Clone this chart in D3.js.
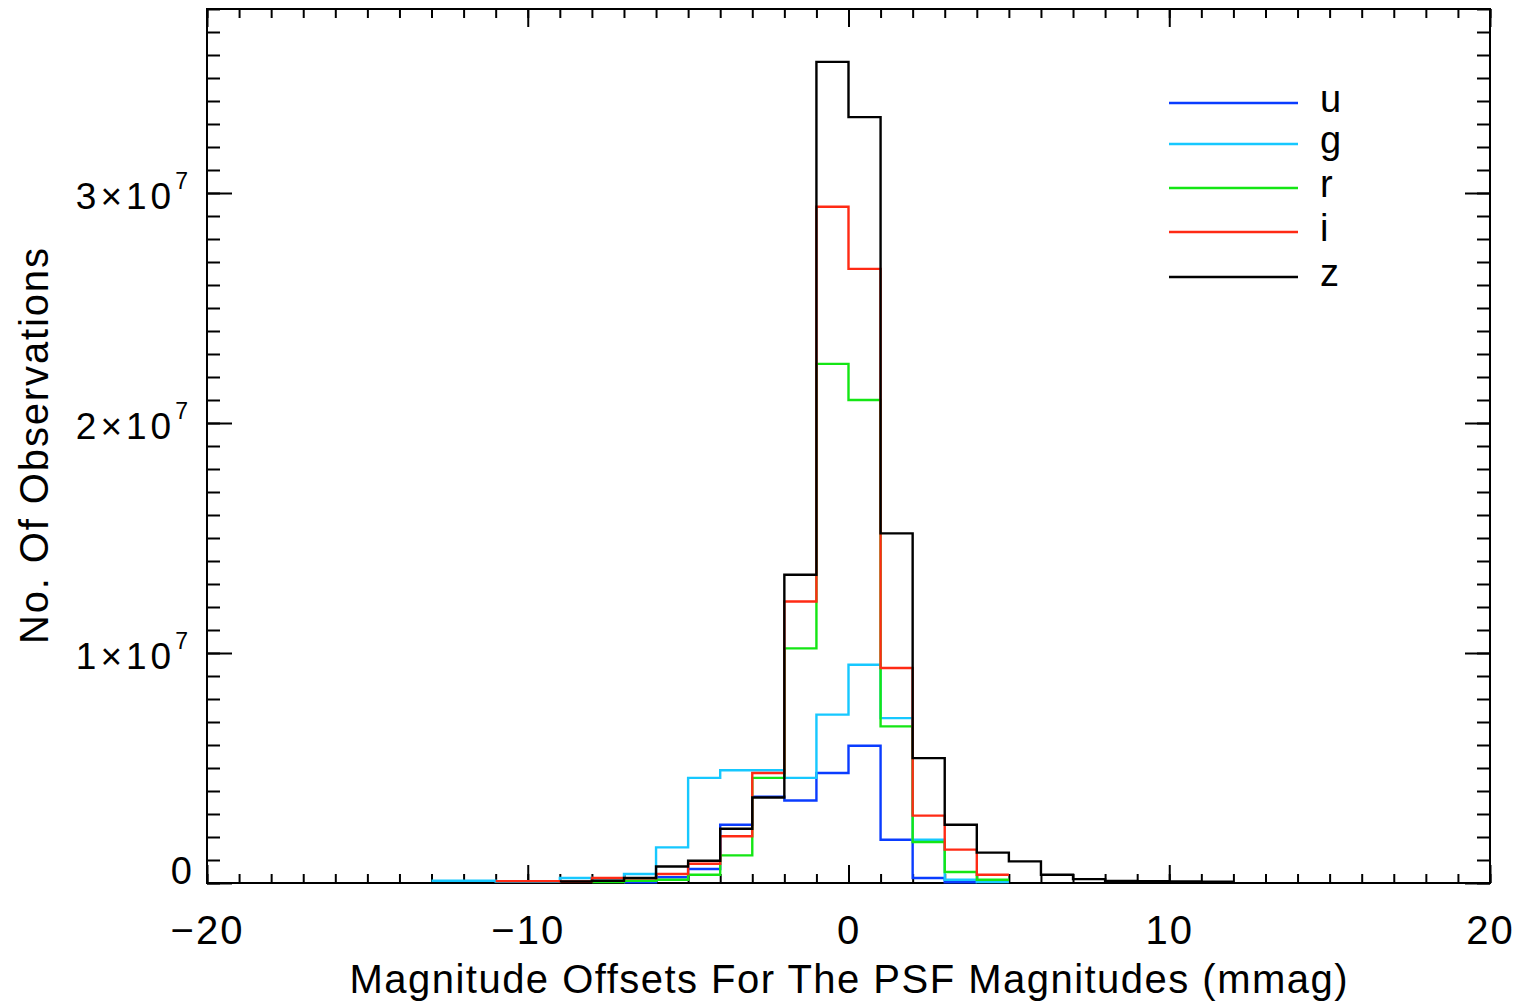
<!DOCTYPE html>
<html>
<head>
<meta charset="utf-8">
<script src="https://cdn.jsdelivr.net/npm/d3@7"></script>
<style>
  body { margin: 0; background: #fff; }
  svg { display: block; }
  text { font-family: "Liberation Sans", Arial, sans-serif; fill: #000; }
</style>
</head>
<body>
<svg id="chart" width="1519" height="1003"></svg>
<script>
// bin left edges (mmag), each bin is 1 mmag wide
var binLeft = [-13, -12, -11, -10, -9, -8, -7, -6, -5, -4, -3, -2, -1, 0, 1, 2, 3, 4, 5, 6, 7, 8, 9, 10, 11];

// counts per band, null where the band has no bin
var uCounts = [null, null, null, null, null, null, 3e4, 2.5e5, 6.1e5, 2.53e6, 3.75e6, 3.59e6, 4.78e6, 5.97e6, 1.88e6, 2.2e5, 3e4, null, null, null, null, null, null, null, null];
var gCounts = [1e5, 1e5, 6e4, 6e4, 2.2e5, 2e5, 3.9e5, 1.55e6, 4.57e6, 4.9e6, 4.9e6, 4.57e6, 7.32e6, 9.49e6, 7.17e6, 1.88e6, 1.4e5, 4e4, null, null, null, null, null, null, null];
var rCounts = [null, null, null, null, null, 4e4, 1e5, 1.4e5, 3.6e5, 1.2e6, 4.57e6, 1.02e7, 2.257e7, 2.1e7, 6.81e6, 1.78e6, 4.8e5, 1.4e5, null, null, null, null, null, null, null];
var iCounts = [null, null, 8e4, 8e4, 7e4, 2.2e5, 2e5, 3.9e5, 8.4e5, 2.03e6, 4.78e6, 1.224e7, 2.94e7, 2.67e7, 9.35e6, 2.93e6, 1.45e6, 3.6e5, null, null, null, null, null, null, null];
var zCounts = [null, null, null, null, 7e4, 1e5, 2.2e5, 7.2e5, 9.7e5, 2.36e6, 3.72e6, 1.34e7, 3.57e7, 3.33e7, 1.52e7, 5.43e6, 2.53e6, 1.32e6, 9.4e5, 3.6e5, 1.7e5, 9e4, 8e4, 7e4, 6e4];

var bandNames = ['u', 'g', 'r', 'i', 'z'];
var bandColors = ['#0a3cff', '#16c8ff', '#14e614', '#ff2a14', '#000000'];

var xMajor = [-20, -10, 0, 10, 20];
var yMajor = [0, 1e7, 2e7, 3e7];

var svg = d3.select('#chart');
var pLeft = 207, pRight = 1490, pTop = 9, pBottom = 883;

var x = d3.scaleLinear().domain([-20, 20]).range([pLeft, pRight]);
var y = d3.scaleLinear().domain([0, 3.8e7]).range([pBottom, pTop]);

var minorX = d3.range(-20, 21, 1);
var minorY = d3.range(0, 3.8e7 + 1, 1e6);

function styleAxis(g) {
  g.select('.domain').remove();
  g.selectAll('line').attr('stroke', '#000').attr('stroke-width', 2);
}

// ticks pointing inward on all four sides
svg.append('g').attr('transform', 'translate(0,' + pBottom + ')')
  .call(d3.axisBottom(x).tickValues(minorX).tickSize(-9).tickFormat('')).call(styleAxis);
svg.append('g').attr('transform', 'translate(0,' + pTop + ')')
  .call(d3.axisTop(x).tickValues(minorX).tickSize(-9).tickFormat('')).call(styleAxis);
svg.append('g').attr('transform', 'translate(0,' + pTop + ')')
  .call(d3.axisTop(x).tickValues(xMajor).tickSize(-18).tickFormat('')).call(styleAxis);
svg.append('g').attr('transform', 'translate(' + pLeft + ',0)')
  .call(d3.axisLeft(y).tickValues(minorY).tickSize(-13).tickFormat('')).call(styleAxis);
svg.append('g').attr('transform', 'translate(' + pRight + ',0)')
  .call(d3.axisRight(y).tickValues(minorY).tickSize(-13).tickFormat('')).call(styleAxis);
svg.append('g').attr('transform', 'translate(' + pRight + ',0)')
  .call(d3.axisRight(y).tickValues(yMajor).tickSize(-25).tickFormat('')).call(styleAxis);

// bottom major ticks with labels
var xAx = svg.append('g').attr('transform', 'translate(0,' + pBottom + ')')
  .call(d3.axisBottom(x).tickValues(xMajor).tickSize(-18)
    .tickFormat(function(d) { return d < 0 ? '\u2212' + Math.abs(d) : String(d); }))
  .call(styleAxis);
xAx.selectAll('text').attr('y', 61).attr('dy', null).attr('fill', '#000')
  .style('font-size', '40px').style('font-family', '"Liberation Sans", Arial, sans-serif')
  .attr('letter-spacing', 2);

// left major ticks, labels written as a x 10^b
var yAx = svg.append('g').attr('transform', 'translate(' + pLeft + ',0)')
  .call(d3.axisLeft(y).tickValues(yMajor).tickSize(-25).tickFormat(''))
  .call(styleAxis);
yAx.selectAll('.tick').each(function(d) {
  var t = d3.select(this).append('text').attr('text-anchor', 'end').attr('x', -15)
    .attr('fill', '#000').style('font-family', '"Liberation Sans", Arial, sans-serif');
  if (d === 0) {
    t.attr('y', 0).style('font-size', '38px').text('0');
  } else {
    var exp = Math.floor(Math.log10(d));
    var man = d / Math.pow(10, exp);
    t.attr('y', 15).style('font-size', '37px').attr('letter-spacing', 4);
    t.append('tspan').text(man + '\u00d710');
    t.append('tspan').attr('dy', -20).style('font-size', '23px').text(exp);
  }
});

// frame
svg.append('rect').attr('x', pLeft).attr('y', pTop)
  .attr('width', pRight - pLeft).attr('height', pBottom - pTop)
  .attr('fill', 'none').attr('stroke', '#000').attr('stroke-width', 2);

// histogram steps
function stepPath(counts) {
  var p = '';
  var prev = null;
  counts.forEach(function(c, k) {
    if (c == null) { prev = null; return; }
    var x0 = x(binLeft[k]), x1 = x(binLeft[k] + 1), yy = y(c);
    if (prev == null) p += 'M' + x0 + ',' + yy;
    else p += 'V' + yy;
    p += 'H' + x1;
    prev = c;
  });
  return p;
}

var allCounts = [uCounts, gCounts, rCounts, iCounts, zCounts];
svg.append('g').selectAll('path').data(allCounts).join('path')
  .attr('d', stepPath)
  .attr('fill', 'none')
  .attr('stroke', function(d, k) { return bandColors[k]; })
  .attr('stroke-width', 2.4);

// legend
var leg = svg.append('g').selectAll('g').data(bandNames).join('g')
  .attr('transform', function(d, k) { return 'translate(0,' + [103, 144, 188, 232, 277][k] + ')'; });
leg.append('line').attr('x1', 1169).attr('x2', 1298).attr('y1', 0).attr('y2', 0)
  .attr('stroke', function(d, k) { return bandColors[k]; }).attr('stroke-width', 2.4);
leg.append('text').attr('x', 1320).attr('y', 9).style('font-size', '38px').text(function(d) { return d; });

// axis titles
svg.append('text').attr('x', (pLeft + pRight) / 2).attr('y', 993)
  .attr('text-anchor', 'middle').style('font-size', '40px')
  .attr('textLength', 998).attr('lengthAdjust', 'spacing')
  .text('Magnitude Offsets For The PSF Magnitudes (mmag)');
svg.append('text')
  .attr('transform', 'translate(48,' + 446 + ') rotate(-90)')
  .attr('text-anchor', 'middle').style('font-size', '40px')
  .attr('textLength', 396).attr('lengthAdjust', 'spacing')
  .text('No. Of Observations');
</script>
</body>
</html>
